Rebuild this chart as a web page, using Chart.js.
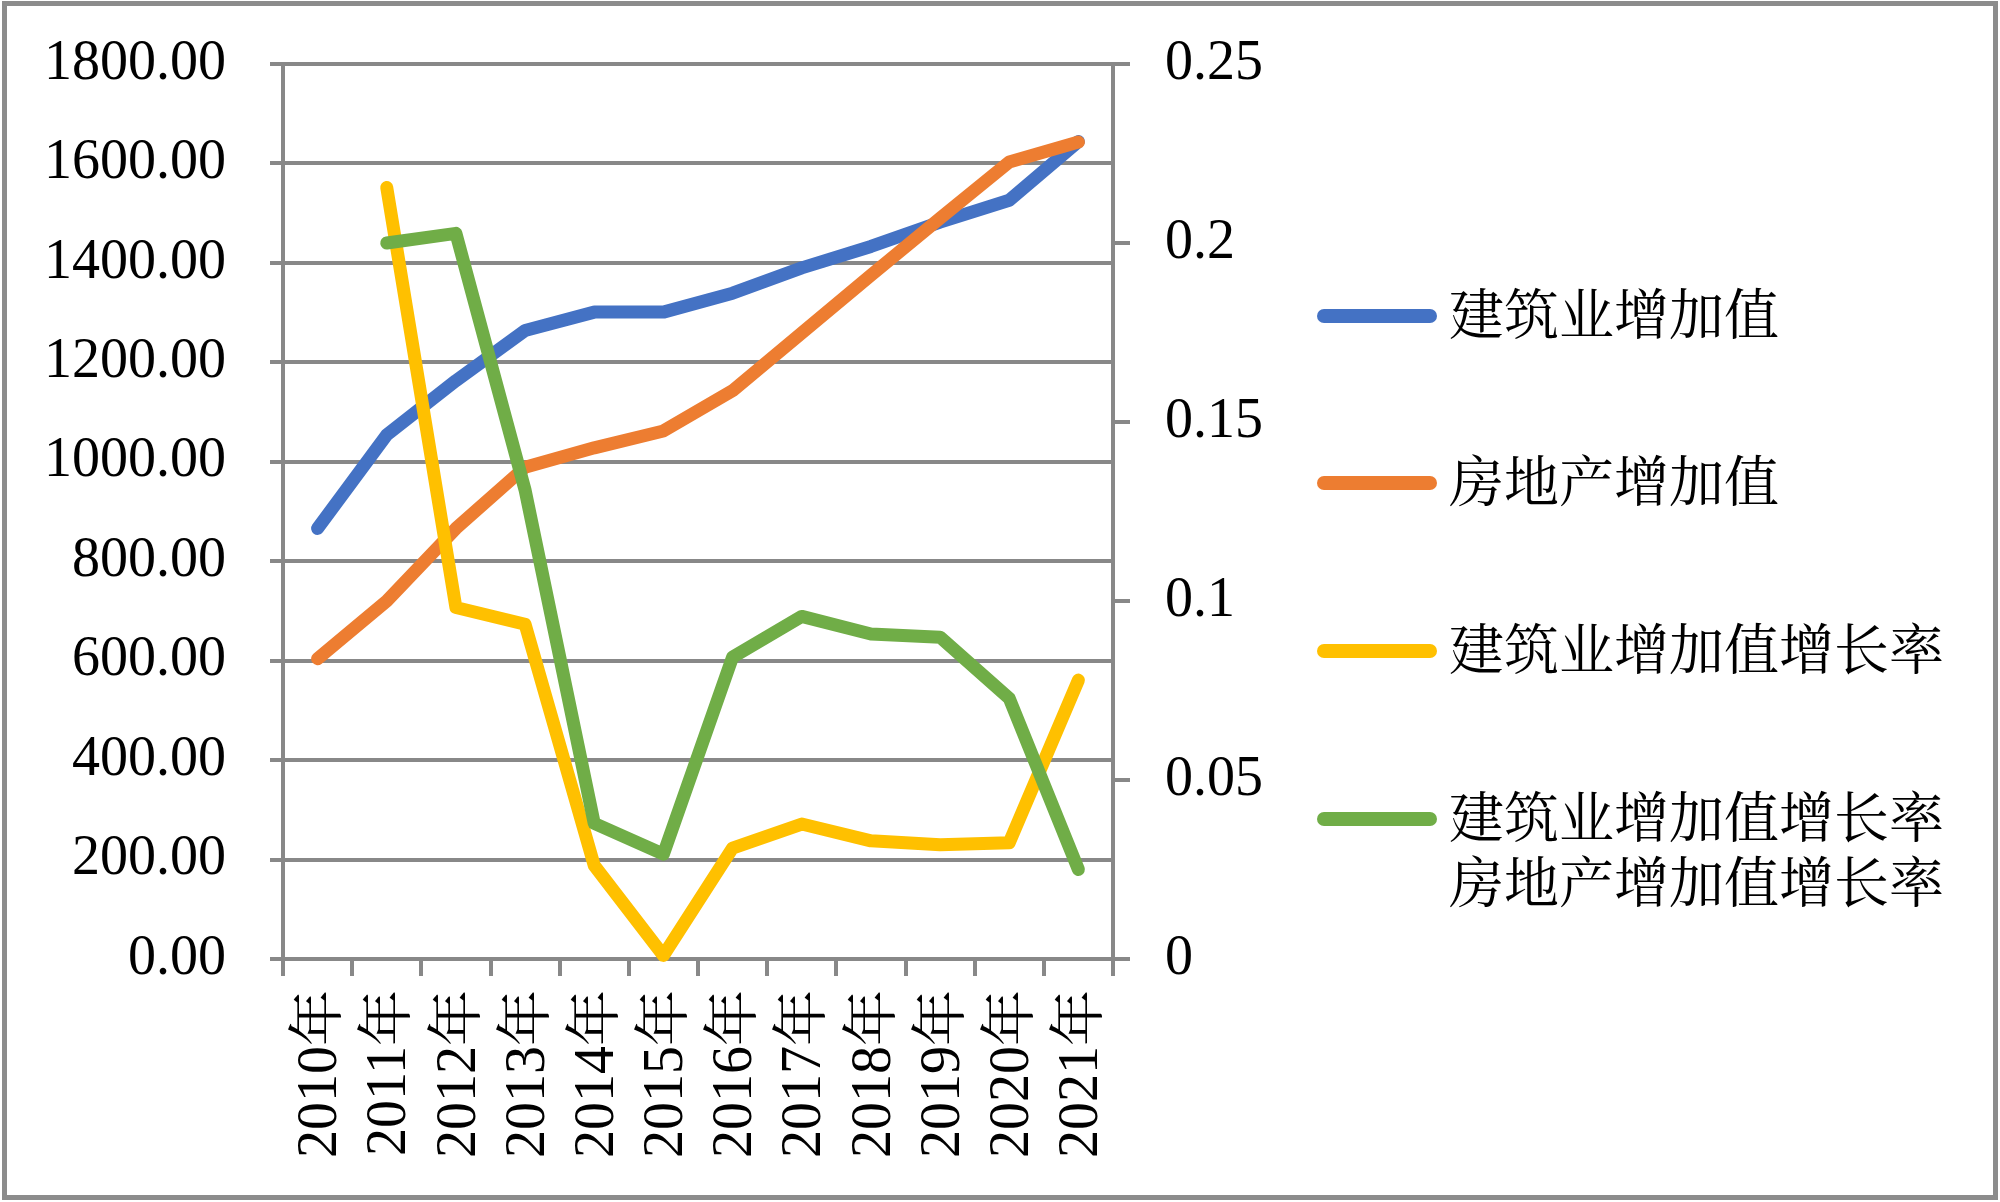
<!DOCTYPE html>
<html>
<head>
<meta charset="utf-8">
<script src="https://cdn.jsdelivr.net/npm/chart.js@4/dist/chart.umd.min.js"></script>
<style>
html,body{margin:0;padding:0;background:#fff;}
canvas{display:block;}
</style>
</head>
<body>
<canvas id="c" width="2000" height="1202"></canvas>
<script>
// ---- data ----
const categories = ['2010年','2011年','2012年','2013年','2014年','2015年','2016年','2017年','2018年','2019年','2020年','2021年'];
const constructionValue = [866, 1054, 1163, 1264, 1301, 1301, 1339, 1390, 1433, 1482, 1526, 1644];
const realEstateValue = [604, 720, 866, 989, 1028, 1062, 1143, 1259, 1375, 1490, 1603, 1643];
const constructionGrowth = [null, 0.2155, 0.0982, 0.0935, 0.0261, 0.001, 0.031, 0.0377, 0.033, 0.0319, 0.0325, 0.0779];
const realEstateGrowth = [null, 0.200, 0.2027, 0.131, 0.0379, 0.0293, 0.0843, 0.0957, 0.0908, 0.0899, 0.0728, 0.025];
const seriesNames = ['建筑业增加值', '房地产增加值', '建筑业增加值增长率', '建筑业增加值增长率\n房地产增加值增长率'];
const leftTickLabels = ['0.00','200.00','400.00','600.00','800.00','1000.00','1200.00','1400.00','1600.00','1800.00'];
const rightTickLabels = ['0','0.05','0.1','0.15','0.2','0.25'];

const FONT = "'Liberation Serif', 'Noto Serif CJK SC', 'Noto Sans CJK SC', serif";
const GRID = '#888888';
const colors = ['#4472C4', '#ED7D31', '#FFC000', '#70AD47'];

const bgPlugin = {
  id: 'bg',
  beforeDraw(chart) {
    const ctx = chart.ctx;
    ctx.save();
    ctx.fillStyle = '#ffffff';
    ctx.fillRect(0, 0, chart.width, chart.height);
    ctx.restore();
  },
  afterDraw(chart) {
    const ctx = chart.ctx;
    ctx.save();
    // legend
    const ys = [316, 483, 651, 819];
    chart.data.datasets.forEach((ds, i) => {
      const y = ys[i];
      ctx.strokeStyle = ds.borderColor;
      ctx.lineWidth = 14;
      ctx.lineCap = 'round';
      ctx.beginPath();
      ctx.moveTo(1324, y);
      ctx.lineTo(1430, y);
      ctx.stroke();
      ctx.fillStyle = '#000';
      ctx.font = '55px ' + FONT;
      ctx.textBaseline = 'middle';
      ctx.textAlign = 'left';
      ds.label.split('\n').forEach((t, k) => {
        ctx.fillText(t, 1449, y + 4 + k * 65);
      });
    });
    // frame
    ctx.strokeStyle = '#8c8c8c';
    ctx.lineWidth = 5;
    ctx.strokeRect(4.5, 3.5, 1991, 1194);
    ctx.restore();
  }
};

new Chart(document.getElementById('c'), {
  type: 'line',
  data: {
    labels: categories,
    datasets: [
      { label: seriesNames[0], data: constructionValue, yAxisID: 'y', borderColor: colors[0], order: 4 },
      { label: seriesNames[1], data: realEstateValue, yAxisID: 'y', borderColor: colors[1], order: 3 },
      { label: seriesNames[2], data: constructionGrowth, yAxisID: 'y1', borderColor: colors[2], order: 2 },
      { label: seriesNames[3], data: realEstateGrowth, yAxisID: 'y1', borderColor: colors[3], order: 1 }
    ]
  },
  options: {
    responsive: false,
    devicePixelRatio: 1,
    animation: false,
    layout: { padding: { top: 64, left: 0, right: 0, bottom: 0 } },
    elements: {
      line: { borderWidth: 13, tension: 0, borderCapStyle: 'round', borderJoinStyle: 'round', fill: false },
      point: { radius: 0, hoverRadius: 0 }
    },
    datasets: { line: { clip: false, spanGaps: false } },
    plugins: { legend: { display: false }, tooltip: { enabled: false } },
    scales: {
      x: {
        type: 'category',
        offset: true,
        grid: { offset: true, drawOnChartArea: false, drawTicks: true, tickLength: 17, color: GRID, lineWidth: 4 },
        border: { display: true, color: GRID, width: 4 },
        ticks: {
          autoSkip: false, minRotation: 90, maxRotation: 90, padding: 14, labelOffset: 4,
          color: '#000', font: { family: FONT, size: 56 }
        },
        afterFit(s) { s.height = 243; s.paddingLeft = 0; s.paddingRight = 0; }
      },
      y: {
        position: 'left',
        min: 0, max: 1800,
        grid: { color: GRID, lineWidth: 4, tickLength: 13, drawTicks: true },
        border: { display: true, color: GRID, width: 4 },
        ticks: {
          stepSize: 200, padding: 44, color: '#000', font: { family: FONT, size: 56 },
          callback: (v) => leftTickLabels[Math.round(v / 200)]
        },
        afterFit(s) { s.width = 283; s.paddingTop = 0; s.paddingBottom = 0; }
      },
      y1: {
        position: 'right',
        min: 0, max: 0.25,
        grid: { drawOnChartArea: false, color: GRID, lineWidth: 4, tickLength: 17, drawTicks: true },
        border: { display: true, color: GRID, width: 4 },
        ticks: {
          stepSize: 0.05, padding: 35, color: '#000', font: { family: FONT, size: 56 },
          callback: (v) => rightTickLabels[Math.round(v / 0.05)]
        },
        afterFit(s) { s.width = 887; s.paddingTop = 0; s.paddingBottom = 0; }
      }
    }
  },
  plugins: [bgPlugin]
});
</script>
</body>
</html>
